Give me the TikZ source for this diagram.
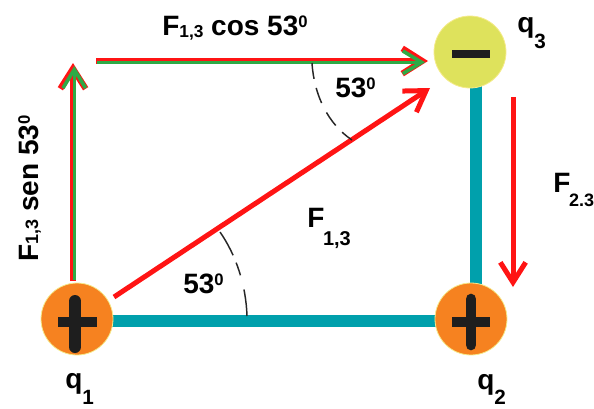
\documentclass[tikz,border=0pt]{standalone}
\usepackage{fontspec}
\setmainfont{Liberation Sans}
\usetikzlibrary{arrows.meta,calc}
\definecolor{qorange}{RGB}{246,130,32}
\definecolor{qyellow}{RGB}{222,226,92}
\definecolor{qrim}{RGB}{245,235,140}
\definecolor{tealc}{RGB}{0,160,172}
\definecolor{fred}{RGB}{255,20,20}
\definecolor{fgreen}{RGB}{46,170,70}
\definecolor{barc}{RGB}{30,30,30}
\newcommand\lblfont{\fontsize{21}{24}\selectfont\bfseries}
\newcommand\sbs[3]{\raisebox{#1}{\fontsize{#2}{#2}\selectfont #3}}
\begin{document}
\begin{tikzpicture}[x=0.75pt,y=-0.75pt,
  charge/.style={circle,minimum size=54pt,inner sep=0pt,draw=qrim,line width=0.6pt},
  link/.style={draw=tealc,line width=9pt},
  sign/.style={draw=barc,line width=#1},
  redvec/.style={draw=fred,line width=3.75pt,-{Straight Barb[length=15pt,width=19pt]}},
  outvec/.style={draw=fred,line width=4.6pt,-{Straight Barb[length=15pt,width=19pt]}},
  invec/.style={draw=fgreen,line width=2.7pt,-{Straight Barb[length=14pt,width=17pt]}},
  anglemark/.style={draw=black!85,line width=1.1pt},
  lbl/.style={font=\lblfont,inner sep=0pt}
]
\useasboundingbox (0,0) rectangle (594,408);

% charges
\coordinate (c1) at (77,319);
\coordinate (c2) at (471,319);
\coordinate (c3) at (470,52);

% teal links (behind charges)
\draw[link] ($(c1)+(0,2)$) -- ($(c2)+(0,2)$);
\draw[link] ($(c3)+(6,0)$) -- ($(c2)+(5,0)$);

\node[charge,fill=qorange] (q1) at (c1) {};
\node[charge,fill=qorange] (q2) at (c2) {};
\node[charge,fill=qyellow] (q3) at (c3) {};

% plus signs
\draw[sign=7.5pt] ($(q1.center)+(-19,3)$) -- ($(q1.center)+(20,3)$);
\draw[sign=9pt,line cap=round] ($(q1.center)+(-2,-18)$) -- ($(q1.center)+(-2,28)$);
\draw[sign=7.5pt] ($(q2.center)+(-19,3)$) -- ($(q2.center)+(19,3)$);
\draw[sign=8pt,line cap=round] ($(q2.center)+(0,-20)$) -- ($(q2.center)+(0,26)$);
% minus sign
\draw[sign=6pt] ($(q3.center)+(-18,1.5)$) -- ($(q3.center)+(20,1.5)$);

% component arrows (red edge, green core)
\coordinate (vbot) at (73,281);
\coordinate (vtop) at (73,63);
\coordinate (hleft) at (96,61);
\coordinate (hright) at (428,61);
\draw[outvec] (vbot) -- (vtop);
\draw[invec] ($(vbot)+(1.3,-1)$) -- ($(vtop)+(1.3,3)$);
\draw[outvec] (hleft) -- (hright);
\draw[invec] ($(hleft)+(1,1.3)$) -- ($(hright)+(-3,1.3)$);

% resultant F13
\coordinate (dstart) at (114,297);
\coordinate (dend) at (430,88);
\draw[redvec] (dstart) -- (dend);

% F23
\coordinate (f23top) at (513,97);
\coordinate (f23bot) at (513,287);
\draw[redvec] (f23top) -- (f23bot);

% angle marks
\draw[anglemark,dash pattern=on 12pt off 7pt on 12pt off 8pt]
  (312,63) .. controls (314,95) and (328,124) .. (352,140);
\draw[anglemark,dash pattern=on 20pt off 11pt on 10pt off 6pt]
  (247,316) .. controls (246,285) and (236,255) .. (220,232);

% labels
\node[lbl,anchor=base west] (tcos) at (162,35)
  {F\sbs{-1.5pt}{13}{1,3} cos 53\sbs{6pt}{12.5}{0}};
\node[lbl,anchor=base west,rotate=90] (tsen) at (38,262)
  {F\sbs{0pt}{13.5}{1,3} sen 53\sbs{6pt}{12.5}{0}};
\node[lbl,anchor=base west] (aup) at (335,97) {53\sbs{6pt}{12.5}{0}};
\node[lbl,anchor=base west] (alow) at (183,293) {53\sbs{6pt}{12.5}{0}};
\node[lbl,anchor=base west] (tf13) at (307,227) {F\kern-1pt\sbs{-13.5pt}{15}{1,3}};
\node[lbl,anchor=base west] (tf23) at (553,192) {F\kern-1pt\sbs{-11pt}{13.5}{2.3}};
\node[lbl,anchor=base west] (l1) at (65,388) {q\sbs{-12.5pt}{15.5}{1}};
\node[lbl,anchor=base west] (l2) at (477,389) {q\sbs{-11.5pt}{15.5}{2}};
\node[lbl,anchor=base west] (l3) at (517,32) {q\sbs{-12.5pt}{15.5}{3}};
\end{tikzpicture}
\end{document}
